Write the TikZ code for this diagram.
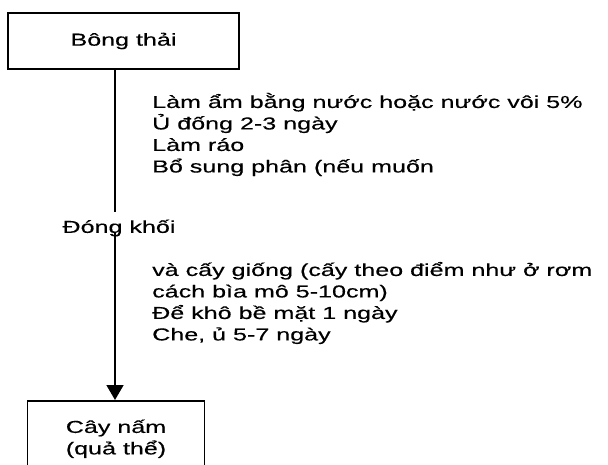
\documentclass[tikz,border=0pt]{standalone}
\usepackage{fontspec}
\setmainfont[FakeStretch=1.45,FakeBold=0.4]{Liberation Sans}
\usetikzlibrary{arrows.meta}
\begin{document}
\begin{tikzpicture}[x=1pt,y=-1pt,
  every node/.style={font=\fontsize{17.3}{21.5}\selectfont, inner sep=0pt},
  box/.style={draw, line width=1.6pt, align=center},
  note/.style={align=left, anchor=west},
  conn/.style={line width=1.6pt}]
\useasboundingbox (0,0) rectangle (608,465);
\node[box, minimum width=231, minimum height=56] (top) at (123.5,41) {Bông thải};
\node[inner ysep=7pt] (mid) at (119,228) {Đóng khối};
\node[box, minimum width=177, minimum height=76, anchor=north] (bot) at (116,400) {Cây nấm\\(quả thể)};
\coordinate (a) at (115,232);
\coordinate (t) at (top.south -| a);
\draw[conn] (t) -- (a |- mid.north);
\draw[conn, -{Triangle[length=15pt,width=17pt]}] (a) -- (a |- bot.north);
\node[note] (n1) at (152,134.5) {Làm ẩm bằng nước hoặc nước vôi 5\%\\Ủ đống 2-3 ngày\\Làm ráo\\Bổ sung phân (nếu muốn};
\node[note] (n2) at (152,303) {và cấy giống (cấy theo điểm như ở rơm\\cách bìa mô 5-10cm)\\Để khô bề mặt 1 ngày\\Che, ủ 5-7 ngày};
\end{tikzpicture}
\end{document}
